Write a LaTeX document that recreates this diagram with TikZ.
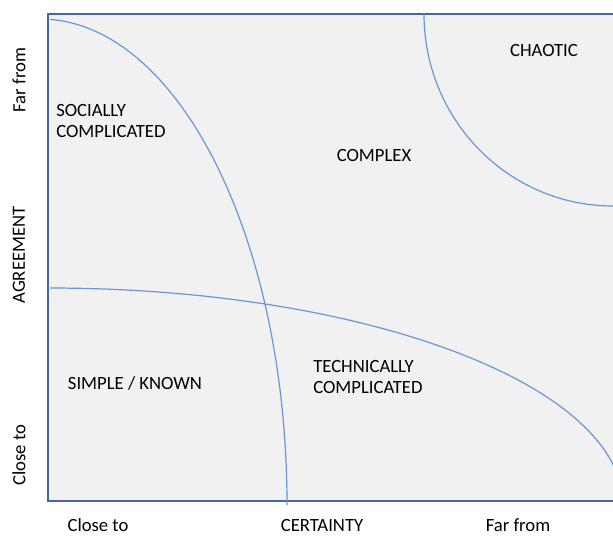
\documentclass[tikz,border=0pt]{standalone}
\usepackage{fontspec}
\setmainfont{Carlito}
\usepackage{xcolor}
\definecolor{frameblue}{RGB}{70,104,160}
\definecolor{curveblue}{RGB}{104,150,214}
\definecolor{panelgray}{RGB}{241,241,241}
\tikzset{
  zone/.style={font=\fontsize{14}{16}\selectfont, align=left, inner sep=0pt},
  axis/.style={font=\fontsize{14}{16}\selectfont, inner sep=0pt},
  border/.style={curveblue, line width=0.9pt}
}

\begin{document}
\begin{tikzpicture}[x=0.75pt, y=-0.75pt]
				\useasboundingbox (0,0) rectangle (613,536);
				\draw[fill=panelgray, draw=frameblue, line width=1.5pt] (48,14) rectangle (640,501);
				\begin{scope}
				\clip (50,0) rectangle (613,536);
				% borders between the zones
				\draw[border] (40,19) arc[start angle=90, end angle=0, x radius=247, y radius=-486];
				\draw[border] (48,288) arc[start angle=90, end angle=0, x radius=575, y radius=-217];
				\draw[border] (424,14) arc[start angle=180, end angle=270, x radius=189, y radius=-192];
				\end{scope}
				% zone labels
				\node[zone, anchor=west] (social) at (56,121) {SOCIALLY\\COMPLICATED};
				\node[zone] (complex) at (374,156) {COMPLEX};
				\node[zone] (chaotic) at (544,51) {CHAOTIC};
				\node[zone] (simple) at (135,383) {SIMPLE / KNOWN};
				\node[zone, anchor=west] (technical) at (313,377) {TECHNICALLY\\COMPLICATED};
				% axis labels
				\node[axis, rotate=90] (agreefar) at (19,80) {Far from};
				\node[axis, rotate=90] (agreement) at (19,255) {AGREEMENT};
				\node[axis, rotate=90] (agreeclose) at (19,455) {Close to};
				\node[axis] (certclose) at (98,525) {Close to};
				\node[axis] (certainty) at (322,525) {CERTAINTY};
				\node[axis] (certfar) at (518,525) {Far from};
			\end{tikzpicture}
\end{document}
